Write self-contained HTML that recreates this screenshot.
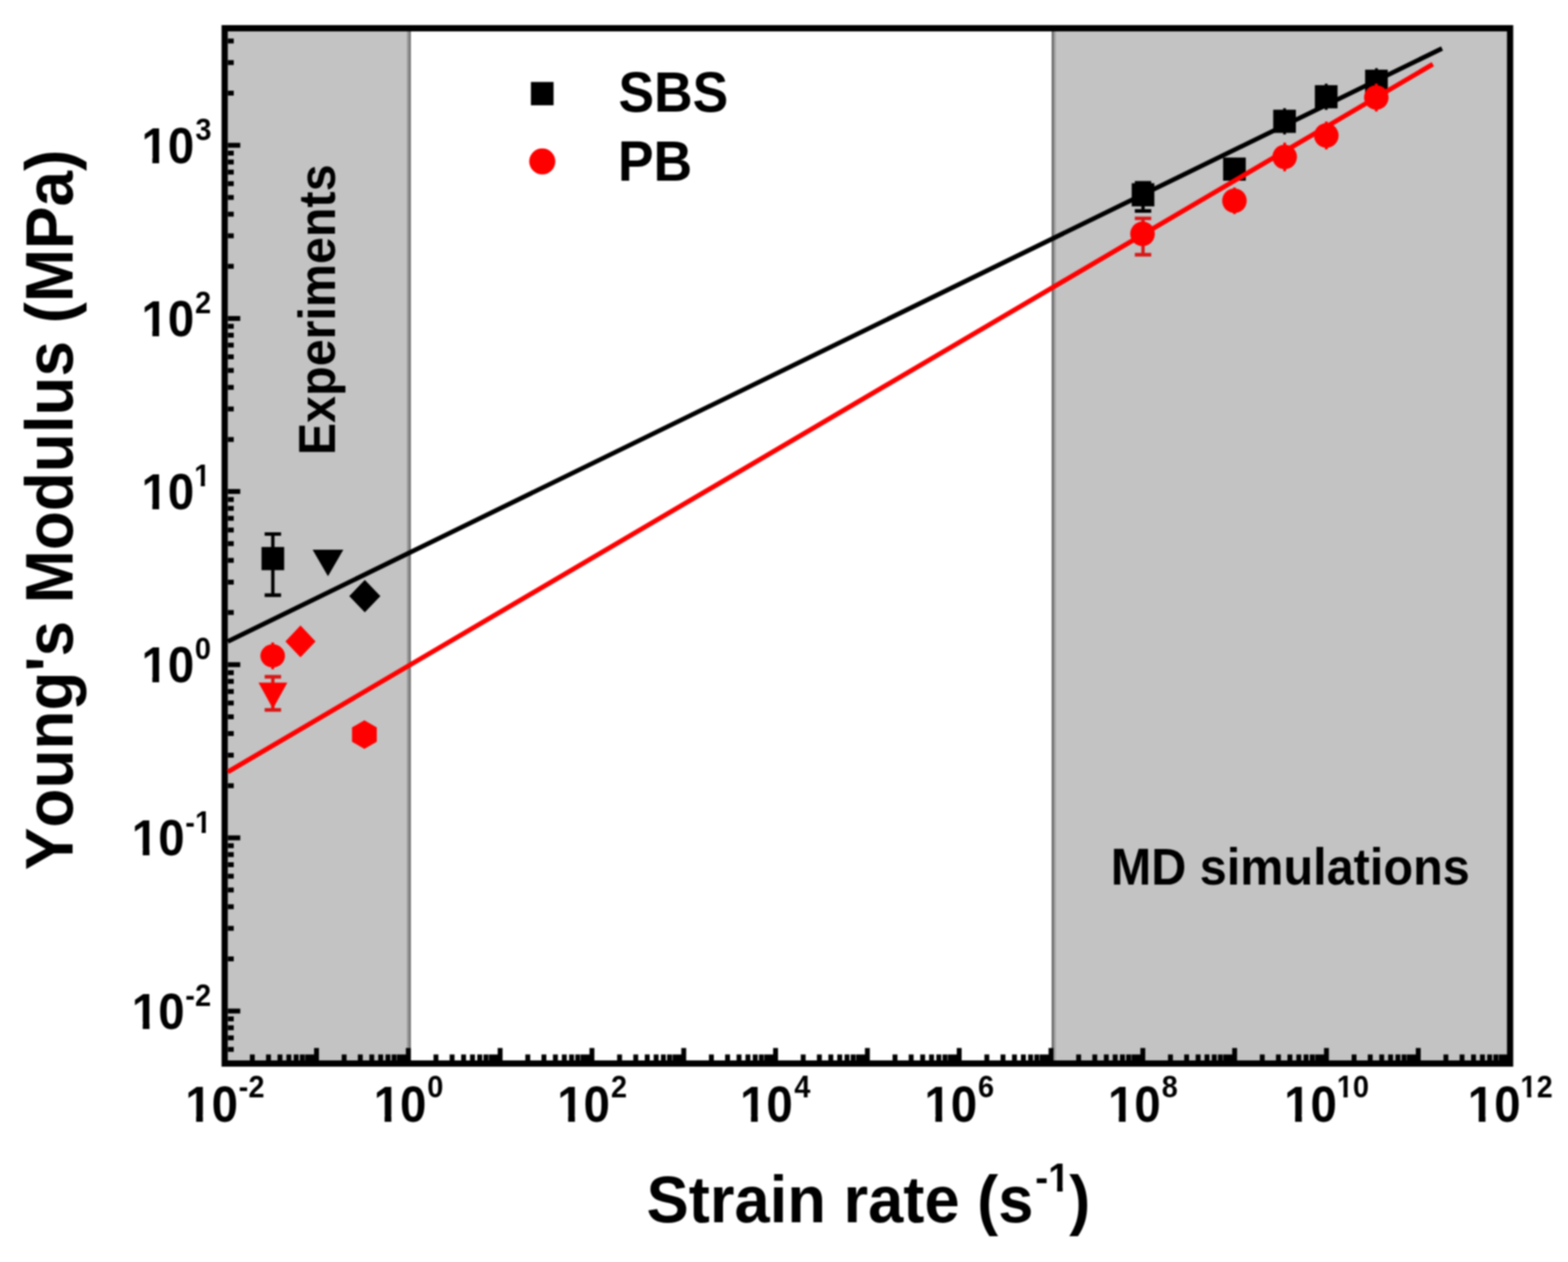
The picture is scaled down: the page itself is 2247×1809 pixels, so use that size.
<!DOCTYPE html>
<html><head><meta charset="utf-8"><title>Young's Modulus vs Strain rate</title>
<style>html,body{margin:0;padding:0;background:#fff;overflow:hidden}svg{display:block}#wrap{filter:blur(0.8px);width:2247px;height:1809px}text{font-family:'Liberation Sans', Arial, Helvetica, sans-serif;font-weight:bold;fill:#000;font-kerning:none;letter-spacing:0}</style>
</head><body>
<div id="wrap"><svg width="2247" height="1809" viewBox="0 0 2247 1809">
<defs><clipPath id="nb0" clipPathUnits="userSpaceOnUse"><path clip-rule="evenodd" d="M-50 -136H186V68H-50ZM1.28 -8.94H15.72V6H1.28ZM25.35 -8.94H38.93V6H25.35Z"/></clipPath><clipPath id="nb1" clipPathUnits="userSpaceOnUse"><path clip-rule="evenodd" d="M-50 -83H133V41.5H-50ZM13.43 -6.24H23.36V6H13.43ZM29.35 -6.24H38.75V6H29.35Z"/></clipPath><clipPath id="nb2" clipPathUnits="userSpaceOnUse"><path clip-rule="evenodd" d="M-50 -83H91.5V41.5H-50ZM-0.39 -6.24H9.54V6H-0.39ZM15.53 -6.24H24.93V6H15.53Z"/></clipPath><clipPath id="nb3" clipPathUnits="userSpaceOnUse"><path clip-rule="evenodd" d="M-50 -83H133V41.5H-50ZM-0.39 -6.24H9.54V6H-0.39ZM15.53 -6.24H24.93V6H15.53Z"/></clipPath><clipPath id="nb4" clipPathUnits="userSpaceOnUse"><path clip-rule="evenodd" d="M-50 -83H133V41.5H-50ZM-0.39 -6.24H9.54V6H-0.39ZM15.53 -6.24H24.93V6H15.53Z"/></clipPath><clipPath id="nb5" clipPathUnits="userSpaceOnUse"><path clip-rule="evenodd" d="M-50 -111.65H161.65V55.83H-50ZM19.11 -7.7H31.47V6H19.11ZM39.43 -7.7H51.09V6H39.43Z"/></clipPath></defs>
<rect width="2247" height="1809" fill="#fff"/>
<rect x="326.5" y="45" width="256.5" height="1475" fill="#c3c3c3"/>
<rect x="583" y="45" width="3" height="1475" fill="#9b9b9b"/>
<rect x="586" y="45" width="2.8" height="1475" fill="#737373"/>
<rect x="1507" y="45" width="3" height="1475" fill="#6d6d6d"/>
<rect x="1510" y="45" width="3" height="1475" fill="#a0a0a0"/>
<rect x="1513" y="45" width="646.5" height="1475" fill="#c3c3c3"/>
<path d="M358.11 1520h7v-8.5h-7zM381.27 1520h7v-8.5h-7zM397.71 1520h7v-8.5h-7zM410.46 1520h7v-8.5h-7zM420.88 1520h7v-8.5h-7zM429.69 1520h7v-8.5h-7zM437.32 1520h7v-8.5h-7zM444.05 1520h7v-8.5h-7zM450.07 1520h7v-17.8h-7zM489.68 1520h7v-8.5h-7zM512.84 1520h7v-8.5h-7zM529.28 1520h7v-8.5h-7zM542.03 1520h7v-8.5h-7zM552.45 1520h7v-8.5h-7zM561.26 1520h7v-8.5h-7zM568.89 1520h7v-8.5h-7zM575.62 1520h7v-8.5h-7zM581.64 1520h7v-17.8h-7zM621.25 1520h7v-8.5h-7zM644.41 1520h7v-8.5h-7zM660.85 1520h7v-8.5h-7zM673.6 1520h7v-8.5h-7zM684.02 1520h7v-8.5h-7zM692.83 1520h7v-8.5h-7zM700.46 1520h7v-8.5h-7zM707.19 1520h7v-8.5h-7zM713.21 1520h7v-17.8h-7zM752.82 1520h7v-8.5h-7zM775.98 1520h7v-8.5h-7zM792.42 1520h7v-8.5h-7zM805.17 1520h7v-8.5h-7zM815.59 1520h7v-8.5h-7zM824.4 1520h7v-8.5h-7zM832.03 1520h7v-8.5h-7zM838.76 1520h7v-8.5h-7zM844.78 1520h7v-17.8h-7zM884.39 1520h7v-8.5h-7zM907.55 1520h7v-8.5h-7zM923.99 1520h7v-8.5h-7zM936.74 1520h7v-8.5h-7zM947.16 1520h7v-8.5h-7zM955.97 1520h7v-8.5h-7zM963.6 1520h7v-8.5h-7zM970.33 1520h7v-8.5h-7zM976.35 1520h7v-17.8h-7zM1015.96 1520h7v-8.5h-7zM1039.12 1520h7v-8.5h-7zM1055.56 1520h7v-8.5h-7zM1068.31 1520h7v-8.5h-7zM1078.73 1520h7v-8.5h-7zM1087.54 1520h7v-8.5h-7zM1095.17 1520h7v-8.5h-7zM1101.9 1520h7v-8.5h-7zM1107.92 1520h7v-17.8h-7zM1147.53 1520h7v-8.5h-7zM1170.69 1520h7v-8.5h-7zM1187.13 1520h7v-8.5h-7zM1199.88 1520h7v-8.5h-7zM1210.3 1520h7v-8.5h-7zM1219.11 1520h7v-8.5h-7zM1226.74 1520h7v-8.5h-7zM1233.47 1520h7v-8.5h-7zM1239.49 1520h7v-17.8h-7zM1279.1 1520h7v-8.5h-7zM1302.26 1520h7v-8.5h-7zM1318.7 1520h7v-8.5h-7zM1331.45 1520h7v-8.5h-7zM1341.87 1520h7v-8.5h-7zM1350.68 1520h7v-8.5h-7zM1358.31 1520h7v-8.5h-7zM1365.04 1520h7v-8.5h-7zM1371.06 1520h7v-17.8h-7zM1410.67 1520h7v-8.5h-7zM1433.83 1520h7v-8.5h-7zM1450.27 1520h7v-8.5h-7zM1463.02 1520h7v-8.5h-7zM1473.44 1520h7v-8.5h-7zM1482.25 1520h7v-8.5h-7zM1489.88 1520h7v-8.5h-7zM1496.61 1520h7v-8.5h-7zM1502.63 1520h7v-17.8h-7zM1542.24 1520h7v-8.5h-7zM1565.4 1520h7v-8.5h-7zM1581.84 1520h7v-8.5h-7zM1594.59 1520h7v-8.5h-7zM1605.01 1520h7v-8.5h-7zM1613.82 1520h7v-8.5h-7zM1621.45 1520h7v-8.5h-7zM1628.18 1520h7v-8.5h-7zM1634.2 1520h7v-17.8h-7zM1673.81 1520h7v-8.5h-7zM1696.97 1520h7v-8.5h-7zM1713.41 1520h7v-8.5h-7zM1726.16 1520h7v-8.5h-7zM1736.58 1520h7v-8.5h-7zM1745.39 1520h7v-8.5h-7zM1753.02 1520h7v-8.5h-7zM1759.75 1520h7v-8.5h-7zM1765.77 1520h7v-17.8h-7zM1805.38 1520h7v-8.5h-7zM1828.54 1520h7v-8.5h-7zM1844.98 1520h7v-8.5h-7zM1857.73 1520h7v-8.5h-7zM1868.15 1520h7v-8.5h-7zM1876.96 1520h7v-8.5h-7zM1884.59 1520h7v-8.5h-7zM1891.32 1520h7v-8.5h-7zM1897.34 1520h7v-17.8h-7zM1936.95 1520h7v-8.5h-7zM1960.11 1520h7v-8.5h-7zM1976.55 1520h7v-8.5h-7zM1989.3 1520h7v-8.5h-7zM1999.72 1520h7v-8.5h-7zM2008.53 1520h7v-8.5h-7zM2016.16 1520h7v-8.5h-7zM2022.89 1520h7v-8.5h-7zM2028.91 1520h7v-17.8h-7zM2068.52 1520h7v-8.5h-7zM2091.68 1520h7v-8.5h-7zM2108.12 1520h7v-8.5h-7zM2120.87 1520h7v-8.5h-7zM2131.29 1520h7v-8.5h-7zM2140.1 1520h7v-8.5h-7zM2147.73 1520h7v-8.5h-7zM2154.46 1520h7v-8.5h-7zM326.5 1500.76h8.5v7h-8.5zM326.5 1484.15h8.5v7h-8.5zM326.5 1469.75h8.5v7h-8.5zM326.5 1457.06h8.5v7h-8.5zM326.5 1445.7h17.8v7h-17.8zM326.5 1370.98h8.5v7h-8.5zM326.5 1327.28h8.5v7h-8.5zM326.5 1296.27h8.5v7h-8.5zM326.5 1272.22h8.5v7h-8.5zM326.5 1252.56h8.5v7h-8.5zM326.5 1235.95h8.5v7h-8.5zM326.5 1221.55h8.5v7h-8.5zM326.5 1208.86h8.5v7h-8.5zM326.5 1197.5h17.8v7h-17.8zM326.5 1122.78h8.5v7h-8.5zM326.5 1079.08h8.5v7h-8.5zM326.5 1048.07h8.5v7h-8.5zM326.5 1024.02h8.5v7h-8.5zM326.5 1004.36h8.5v7h-8.5zM326.5 987.75h8.5v7h-8.5zM326.5 973.35h8.5v7h-8.5zM326.5 960.66h8.5v7h-8.5zM326.5 949.3h17.8v7h-17.8zM326.5 874.58h8.5v7h-8.5zM326.5 830.88h8.5v7h-8.5zM326.5 799.87h8.5v7h-8.5zM326.5 775.82h8.5v7h-8.5zM326.5 756.16h8.5v7h-8.5zM326.5 739.55h8.5v7h-8.5zM326.5 725.15h8.5v7h-8.5zM326.5 712.46h8.5v7h-8.5zM326.5 701.1h17.8v7h-17.8zM326.5 626.38h8.5v7h-8.5zM326.5 582.68h8.5v7h-8.5zM326.5 551.67h8.5v7h-8.5zM326.5 527.62h8.5v7h-8.5zM326.5 507.96h8.5v7h-8.5zM326.5 491.35h8.5v7h-8.5zM326.5 476.95h8.5v7h-8.5zM326.5 464.26h8.5v7h-8.5zM326.5 452.9h17.8v7h-17.8zM326.5 378.18h8.5v7h-8.5zM326.5 334.48h8.5v7h-8.5zM326.5 303.47h8.5v7h-8.5zM326.5 279.42h8.5v7h-8.5zM326.5 259.76h8.5v7h-8.5zM326.5 243.15h8.5v7h-8.5zM326.5 228.75h8.5v7h-8.5zM326.5 216.06h8.5v7h-8.5zM326.5 204.7h17.8v7h-17.8zM326.5 129.98h8.5v7h-8.5zM326.5 86.28h8.5v7h-8.5zM326.5 55.27h8.5v7h-8.5z" fill="#000"/>
<path d="M317.5 36H2168.5V1529H317.5ZM326.5 45V1520H2159.5V45Z" fill="#000" fill-rule="evenodd"/>
<line x1="326.5" y1="919.45" x2="2066.5" y2="69.46" stroke="#000" stroke-width="6.6"/>
<path d="M388.6 765.5h4.8V853.2h-4.8zM379.25 762.9h23.5v5.2h-23.5zM379.25 850.6h23.5v5.2h-23.5z" fill="#000"/>
<rect x="374.75" y="784.1" width="32.5" height="33.2" fill="#000"/>
<path d="M448 788H492L470 826Z" fill="#000"/>
<path d="M522.8 831.3L545.1 854.5L522.8 877.7L500.5 854.5Z" fill="#000"/>
<path d="M1635.6 262h4.8V302.3h-4.8zM1626.25 259.4h23.5v5.2h-23.5zM1626.25 299.7h23.5v5.2h-23.5z" fill="#000"/>
<rect x="1621.75" y="262.6" width="32.5" height="33.2" fill="#000"/>
<rect x="1752.75" y="225.8" width="32.5" height="33.2" fill="#000"/>
<rect x="1838.8" y="155.1" width="4" height="37.6" fill="#000"/>
<rect x="1824.55" y="157.3" width="32.5" height="33.2" fill="#000"/>
<rect x="1898.5" y="119.9" width="4" height="37.6" fill="#000"/>
<rect x="1884.25" y="122.1" width="32.5" height="33.2" fill="#000"/>
<rect x="1970.5" y="97.7" width="4" height="37.6" fill="#000"/>
<rect x="1956.25" y="99.9" width="32.5" height="33.2" fill="#000"/>
<line x1="326.5" y1="1106.53" x2="2053.3" y2="92.04" stroke="#ff0000" stroke-width="6.8"/>
<rect x="388.8" y="921" width="4" height="38.4" fill="#ff0000"/>
<ellipse cx="390.8" cy="940.2" rx="17.6" ry="16.6" fill="#ff0000"/>
<path d="M430.6 896.6L452.2 919.4L430.6 942.2L409 919.4Z" fill="#ff0000"/>
<path d="M388.6 970.1h4.8V1017.6h-4.8zM379.25 967.5h23.5v5.2h-23.5zM379.25 1015h23.5v5.2h-23.5z" fill="#d81818"/>
<path d="M370.5 978.5H411.8L391.1 1016Z" fill="#ff0000"/>
<polygon points="522.2,1032.5 539.95,1042.75 539.95,1063.25 522.2,1073.5 504.45,1063.25 504.45,1042.75" fill="#ff0000"/>
<path d="M1635.6 313h4.8V365.2h-4.8zM1626.25 310.4h23.5v5.2h-23.5zM1626.25 362.6h23.5v5.2h-23.5z" fill="#d81818"/>
<circle cx="1637.3" cy="335.2" r="17.6" fill="#ff0000"/>
<rect x="1767" y="268.8" width="4" height="38" fill="#ff0000"/>
<circle cx="1769" cy="287.8" r="17.6" fill="#ff0000"/>
<rect x="1839" y="204.5" width="4" height="41" fill="#ff0000"/>
<circle cx="1841" cy="225" r="17.6" fill="#ff0000"/>
<rect x="1898.7" y="174.2" width="4" height="40" fill="#ff0000"/>
<circle cx="1900.7" cy="194.2" r="17.6" fill="#ff0000"/>
<rect x="1970.3" y="119.8" width="4" height="40" fill="#ff0000"/>
<circle cx="1972.3" cy="139.8" r="17.6" fill="#ff0000"/>
<rect x="760.8" y="117.5" width="32.5" height="33.4" fill="#000"/>
<circle cx="777.1" cy="231.4" r="18.7" fill="#ff0000"/>
<g transform="translate(188.85 1474.6) scale(1 1.07)"><text font-size="68" clip-path="url(#nb0)">10</text></g>
<g transform="translate(265.58 1441.7) scale(1 1.05)"><text font-size="41.5">-2</text></g>
<g transform="translate(188.85 1226.4) scale(1 1.07)"><text font-size="68" clip-path="url(#nb0)">10</text></g>
<g transform="translate(265.58 1193.5) scale(1 1.05)"><text font-size="41.5" clip-path="url(#nb1)">-1</text></g>
<g transform="translate(202.65 978.2) scale(1 1.07)"><text font-size="68" clip-path="url(#nb0)">10</text></g>
<g transform="translate(279.36 945.3) scale(1 1.05)"><text font-size="41.5">0</text></g>
<g transform="translate(202.65 730) scale(1 1.07)"><text font-size="68" clip-path="url(#nb0)">10</text></g>
<g transform="translate(278.16 697.1) scale(1 1.05)"><text font-size="41.5" clip-path="url(#nb2)">1</text></g>
<g transform="translate(202.65 481.8) scale(1 1.07)"><text font-size="68" clip-path="url(#nb0)">10</text></g>
<g transform="translate(279.56 448.9) scale(1 1.05)"><text font-size="41.5">2</text></g>
<g transform="translate(202.65 233.6) scale(1 1.07)"><text font-size="68" clip-path="url(#nb0)">10</text></g>
<g transform="translate(280.05 200.7) scale(1 1.05)"><text font-size="41.5">3</text></g>
<g transform="translate(265.39 1607.6) scale(1 1.07)"><text font-size="68" clip-path="url(#nb0)">10</text></g>
<g transform="translate(342.12 1573.2) scale(1 1.05)"><text font-size="41.5">-2</text></g>
<g transform="translate(535.47 1607.6) scale(1 1.07)"><text font-size="68" clip-path="url(#nb0)">10</text></g>
<g transform="translate(612.18 1573.2) scale(1 1.05)"><text font-size="41.5">0</text></g>
<g transform="translate(798.49 1607.6) scale(1 1.07)"><text font-size="68" clip-path="url(#nb0)">10</text></g>
<g transform="translate(875.4 1573.2) scale(1 1.05)"><text font-size="41.5">2</text></g>
<g transform="translate(1060.51 1607.6) scale(1 1.07)"><text font-size="68" clip-path="url(#nb0)">10</text></g>
<g transform="translate(1138.23 1573.2) scale(1 1.05)"><text font-size="41.5">4</text></g>
<g transform="translate(1324.73 1607.6) scale(1 1.07)"><text font-size="68" clip-path="url(#nb0)">10</text></g>
<g transform="translate(1401.56 1573.2) scale(1 1.05)"><text font-size="41.5">6</text></g>
<g transform="translate(1587.66 1607.6) scale(1 1.07)"><text font-size="68" clip-path="url(#nb0)">10</text></g>
<g transform="translate(1664.69 1573.2) scale(1 1.05)"><text font-size="41.5">8</text></g>
<g transform="translate(1840.23 1607.6) scale(1 1.07)"><text font-size="68" clip-path="url(#nb0)">10</text></g>
<g transform="translate(1915.74 1573.2) scale(1 1.05)"><text font-size="41.5" clip-path="url(#nb3)">10</text></g>
<g transform="translate(2103.35 1607.6) scale(1 1.07)"><text font-size="68" clip-path="url(#nb0)">10</text></g>
<g transform="translate(2178.86 1573.2) scale(1 1.05)"><text font-size="41.5" clip-path="url(#nb4)">12</text></g>
<g transform="translate(926.59 1752.2) scale(1 1.05)"><text font-size="90.68">Strain rate (s</text></g>
<g transform="translate(1532.17 1752.2) scale(1 1.05)"><text font-size="90.68">)</text></g>
<g transform="translate(1483.42 1708) scale(1 1.04)"><text font-size="55.83" clip-path="url(#nb5)">-1</text></g>
<g transform="translate(103.8 1247.16) rotate(-90) scale(1 1.05)"><text font-size="91.45">Young's Modulus (MPa)</text></g>
<g transform="translate(479.5 652.44) rotate(-90) scale(1 1.08)"><text font-size="69.44">Experiments</text></g>
<g transform="translate(1591.64 1267.6) scale(1 1.07)"><text font-size="69.64">MD simulations</text></g>
<g transform="translate(886.19 159.7) scale(1 1.06)"><text font-size="76.55">SBS</text></g>
<g transform="translate(885.47 258.5) scale(1 1.07)"><text font-size="76.67">PB</text></g>
</svg></div>
</body></html>
